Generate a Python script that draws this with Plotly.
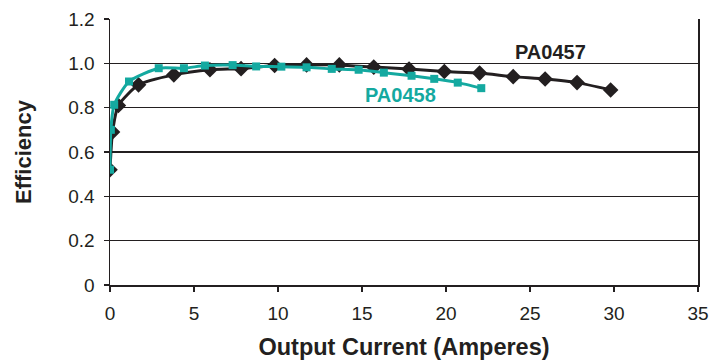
import plotly.graph_objects as go

# PA0457 (black diamonds)
pa0457_x = [0.0, 0.15, 0.5, 1.7, 3.8, 5.95, 7.8, 9.8, 11.7, 13.65, 15.7, 17.8, 19.9, 22.0, 24.0, 25.9, 27.8, 29.8]
pa0457_y = [0.52, 0.69, 0.81, 0.903, 0.948, 0.971, 0.976, 0.99, 0.993, 0.993, 0.983, 0.974, 0.963, 0.956, 0.940, 0.929, 0.913, 0.880]

# PA0458 (teal squares)
pa0458_x = [0.0, 0.05, 0.25, 1.13, 2.9, 4.4, 5.65, 7.3, 8.7, 10.2, 11.7, 13.2, 14.8, 16.3, 17.95, 19.3, 20.7, 22.1]
pa0458_y = [0.52, 0.70, 0.813, 0.918, 0.978, 0.978, 0.99, 0.992, 0.986, 0.985, 0.982, 0.975, 0.971, 0.958, 0.944, 0.930, 0.913, 0.888]

y_ticks = [0, 0.2, 0.4, 0.6, 0.8, 1.0, 1.2]
y_ticktext = ["0", "0.2", "0.4", "0.6", "0.8", "1.0", "1.2"]
x_ticks = [0, 5, 10, 15, 20, 25, 30, 35]

BLACK = "#231f20"
TEAL = "#14a9a0"
FONT = "Liberation Sans, Arial, sans-serif"

fig = go.Figure()
fig.add_trace(go.Scatter(
    x=pa0457_x, y=pa0457_y, mode="lines+markers", name="PA0457",
    line=dict(color=BLACK, width=3, shape="spline", smoothing=0.6),
    marker=dict(symbol="diamond", size=12, color=BLACK),
))
fig.add_trace(go.Scatter(
    x=pa0458_x, y=pa0458_y, mode="lines+markers", name="PA0458",
    line=dict(color=TEAL, width=3, shape="spline", smoothing=0.6),
    marker=dict(symbol="square", size=8, color=TEAL),
))

fig.add_annotation(x=26.2, y=1.052, text="<b>PA0457</b>", showarrow=False,
                   font=dict(family=FONT, size=20, color=BLACK))
fig.add_annotation(x=17.3, y=0.858, text="<b>PA0458</b>", showarrow=False,
                   font=dict(family=FONT, size=20, color=TEAL))

fig.update_layout(
    width=720, height=362,
    margin=dict(l=110, r=22, t=19, b=77, autoexpand=False),
    paper_bgcolor="white", plot_bgcolor="white",
    showlegend=False,
    font=dict(family=FONT, size=18, color=BLACK),
)
fig.update_xaxes(
    range=[0, 35], tickvals=x_ticks, showgrid=False, zeroline=False,
    showline=True, linecolor=BLACK, linewidth=1.5,
    ticks="outside", ticklen=5, tickcolor=BLACK, tickwidth=1.5,
    tickfont=dict(size=19, color=BLACK), ticklabelstandoff=6,
    automargin=False,
    title=dict(text="<b>Output Current (Amperes)</b>", font=dict(size=23.5, color=BLACK), standoff=15),
)
fig.update_yaxes(
    range=[0, 1.2], tickvals=y_ticks, ticktext=y_ticktext,
    showgrid=True, gridcolor=BLACK, gridwidth=1.2, zeroline=False,
    showline=True, mirror=True, linecolor=BLACK, linewidth=1.5,
    ticks="outside", ticklen=5, tickcolor=BLACK, tickwidth=1.5,
    tickfont=dict(size=19, color=BLACK), ticklabelstandoff=5,
    automargin=False,
    title=dict(text="<b>Efficiency</b>", font=dict(size=22, color=BLACK), standoff=30),
)

fig.write_html(
    "out.html",
    config={"displayModeBar": False, "staticPlot": True},
    post_script="document.body.style.margin='0';document.body.style.padding='0';document.body.style.overflow='hidden';",
)
